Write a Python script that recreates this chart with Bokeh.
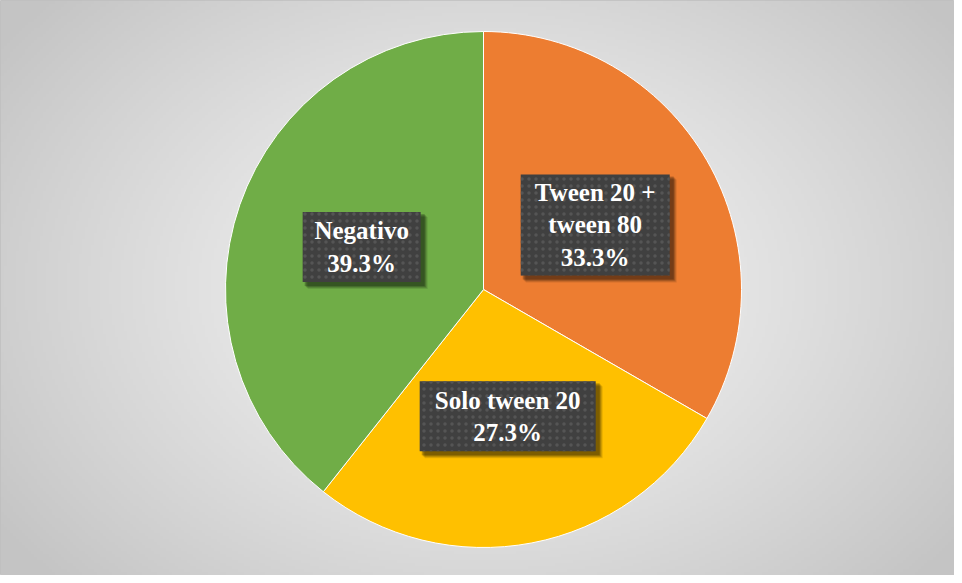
import numpy as np
from bokeh.plotting import figure
from bokeh.models import ColumnDataSource
from bokeh.core.properties import value
from bokeh.embed import file_html
from bokeh.resources import INLINE

# ---- data ----
categories = ["Tween 20 +\ntween 80", "Solo tween 20", "Negativo"]
percents = [33.3, 27.3, 39.3]
colors = ["#ED7D31", "#FFC000", "#70AD47"]

# ---- layout (pixels) ----
W, H = 954, 575
cx, cy, R = 483, 286, 258
box_w = [149, 176, 118]
box_h = [101, 70, 70]

p = figure(width=W, height=H, x_range=(0, W), y_range=(0, H),
           output_backend="svg", toolbar_location=None, min_border=0,
           outline_line_color="#bfbfbf", outline_line_width=1)
p.axis.visible = False
p.grid.visible = False
p.background_fill_color = "#e6e6e6"
p.border_fill_color = "#e6e6e6"

# background radial gradient (styling only)
ny, nx = H // 3, W // 3
yy, xx = np.mgrid[0:ny, 0:nx]
dx = (xx * 3 - cx) / (W * 0.62)
dy = (yy * 3 - cy) / (H * 0.75)
d = np.clip(np.sqrt(dx ** 2 + dy ** 2), 0, 1)
g = (246 - (246 - 196) * d ** 1.2).astype(np.uint32)
img = np.empty((ny, nx), dtype=np.uint32)
view = img.view(dtype=np.uint8).reshape((ny, nx, 4))
view[:, :, 0] = g
view[:, :, 1] = g
view[:, :, 2] = g
view[:, :, 3] = 255
p.image_rgba(image=[img], x=0, y=0, dw=W, dh=H)

# ---- wedges ----
total = sum(percents)
fr = np.array(percents) / total
cum_end = np.cumsum(fr)
cum_start = cum_end - fr
start = np.pi / 2 - cum_end * 2 * np.pi
end = np.pi / 2 - cum_start * 2 * np.pi
mid = (start + end) / 2

src = ColumnDataSource(dict(start=start, end=end, color=colors))
p.wedge(x=cx, y=cy, radius=R, start_angle="start", end_angle="end",
        fill_color="color", line_color="white", line_width=1, source=src)

# ---- labels ----
lx = cx + 0.5 * R * np.cos(mid)
ly = cy + 0.5 * R * np.sin(mid)
texts = [f"{c}\n{v:.1f}%" for c, v in zip(categories, percents)]
lsrc = ColumnDataSource(dict(x=lx, y=ly, w=box_w, h=box_h, t=texts))

for k, a in [(7, 0.10), (6, 0.14), (5, 0.18), (4, 0.22)]:
    p.rect(x=lx + k - 1, y=ly - k + 1, width=np.array(box_w) + 2, height=np.array(box_h) + 2,
           fill_color="black", fill_alpha=a, line_color=None)
p.rect(x="x", y="y", width="w", height="h", source=lsrc,
       fill_color="#404040", line_color=None,
       hatch_pattern="dot", hatch_color="#555555", hatch_scale=7, hatch_weight=1.5)
p.text(x="x", y="y", text="t", source=lsrc, text_color="white",
       text_font=value("Liberation Serif"), text_font_style="bold",
       text_font_size="25px", text_align="center", text_baseline="middle",
       text_line_height=1.2)

open("out.html", "w").write(file_html(p, INLINE))
